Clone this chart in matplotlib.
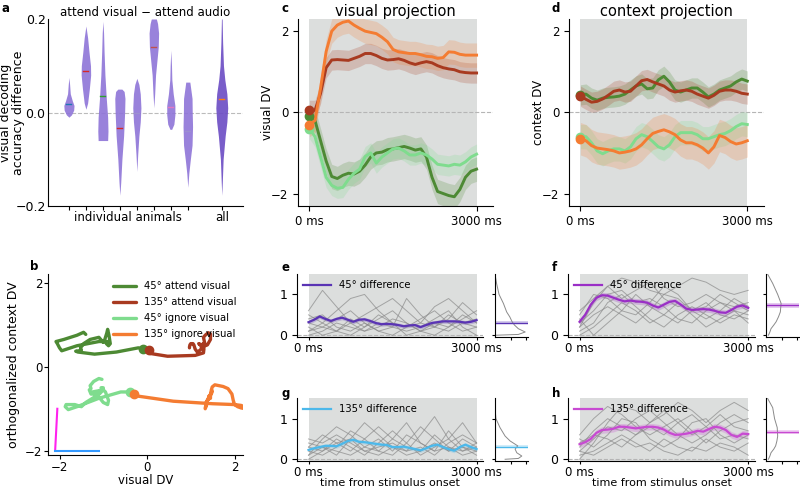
import matplotlib
matplotlib.use("Agg")
import matplotlib.pyplot as plt

plt.rcParams["font.family"] = "DejaVu Sans"
plt.rcParams["font.size"] = 8.5

# ---------------- data ----------------
# panel a: violin outlines (y level, half width) per animal, and medians
VIOLIN_POS = [1, 2, 3, 4, 5, 6, 7, 8, 10]
VIOLIN_Y = [
    [-0.010, -0.005, 0.005, 0.015, 0.025, 0.040, 0.060, 0.075],
    [0.007, 0.020, 0.050, 0.080, 0.100, 0.130, 0.160, 0.185],
    [-0.060, -0.040, -0.010, 0.030, 0.080, 0.130, 0.170, 0.195],
    [-0.177, -0.150, -0.100, -0.050, 0.000, 0.030, 0.045, 0.050],
    [-0.126, -0.090, -0.050, -0.020, 0.010, 0.040, 0.060, 0.073],
    [0.010, 0.040, 0.080, 0.110, 0.140, 0.170, 0.190, 0.200],
    [-0.036, -0.025, -0.005, 0.015, 0.040, 0.070, 0.100, 0.133],
    [-0.160, -0.130, -0.100, -0.070, -0.030, 0.000, 0.030, 0.065],
    [-0.177, -0.150, -0.100, -0.050, -0.020, 0.010, 0.040, 0.070, 0.100, 0.150, 0.200],
]
VIOLIN_W = [
    [0.00, 0.15, 0.28, 0.30, 0.20, 0.08, 0.04, 0.00],
    [0.00, 0.10, 0.20, 0.28, 0.27, 0.18, 0.10, 0.00],
    [0.28, 0.30, 0.28, 0.20, 0.12, 0.07, 0.04, 0.00],
    [0.00, 0.05, 0.12, 0.22, 0.28, 0.30, 0.25, 0.12],
    [0.00, 0.05, 0.12, 0.20, 0.24, 0.20, 0.12, 0.00],
    [0.00, 0.05, 0.10, 0.18, 0.26, 0.28, 0.22, 0.15],
    [0.05, 0.18, 0.24, 0.24, 0.14, 0.06, 0.04, 0.00],
    [0.00, 0.06, 0.15, 0.25, 0.28, 0.26, 0.25, 0.12],
    [0.00, 0.03, 0.08, 0.20, 0.30, 0.35, 0.30, 0.18, 0.10, 0.05, 0.02],
]
VIOLIN_MED = [0.018, 0.088, 0.036, -0.034, 0.0, 0.140, 0.012, -0.040, 0.028]
MED_COLORS = ["#1f77b4", "#d62728", "#2ca02c", "#d62728", "#9c8fd0", "#c0504d",
              "#e377c2", "#9c8fd0", "#ff7f0e"]

# panels c, d: time axis (ms)
T = list(range(0, 3001, 100))

VIS_45_ATT = [-0.10, -0.20, -0.70, -1.20, -1.58, -1.63, -1.55, -1.50, -1.52, -1.45, -1.30,
              -1.10, -1.00, -0.98, -0.92, -0.90, -0.87, -0.84, -0.88, -0.93, -0.90,
              -1.10, -1.60, -1.95, -2.00, -2.05, -2.08, -1.90, -1.60, -1.45, -1.40]
VIS_135_ATT = [0.05, 0.05, 0.47, 1.10, 1.29, 1.30, 1.29, 1.28, 1.33, 1.38, 1.45,
               1.45, 1.40, 1.33, 1.29, 1.30, 1.32, 1.28, 1.22, 1.18, 1.22,
               1.25, 1.22, 1.15, 1.10, 1.07, 1.05, 1.00, 0.98, 0.97, 0.97]
VIS_45_IGN = [-0.40, -0.60, -1.10, -1.60, -1.80, -1.87, -1.85, -1.65, -1.50, -1.40, -1.09,
              -1.00, -1.25, -1.10, -1.00, -0.90, -0.88, -0.95, -1.05, -1.05, -1.00,
              -1.05, -1.15, -1.28, -1.30, -1.32, -1.28, -1.30, -1.22, -1.10, -1.03]
VIS_135_IGN = [-0.30, -0.20, 0.60, 1.50, 2.00, 2.15, 2.22, 2.25, 2.15, 2.07, 2.00,
               1.97, 1.94, 1.85, 1.74, 1.55, 1.49, 1.47, 1.45, 1.45, 1.42,
               1.38, 1.37, 1.33, 1.35, 1.49, 1.48, 1.43, 1.41, 1.41, 1.41]
VIS_ERR = [0.30, 0.25, 0.25, 0.30]

CTX_45_ATT = [0.43, 0.45, 0.35, 0.30, 0.35, 0.37, 0.38, 0.40, 0.45, 0.55, 0.65,
              0.70, 0.58, 0.60, 0.80, 0.89, 0.75, 0.55, 0.50, 0.55, 0.60,
              0.60, 0.50, 0.38, 0.45, 0.55, 0.60, 0.65, 0.75, 0.82, 0.77]
CTX_135_ATT = [0.40, 0.32, 0.25, 0.27, 0.33, 0.42, 0.52, 0.55, 0.50, 0.52, 0.65,
               0.78, 0.81, 0.75, 0.70, 0.65, 0.55, 0.50, 0.53, 0.55, 0.52,
               0.45, 0.40, 0.35, 0.42, 0.52, 0.55, 0.55, 0.52, 0.47, 0.45]
CTX_45_IGN = [-0.60, -0.60, -0.75, -0.95, -1.02, -0.95, -0.90, -0.90, -0.95, -0.85, -0.65,
              -0.55, -0.60, -0.72, -0.85, -0.90, -0.80, -0.60, -0.50, -0.50, -0.50,
              -0.55, -0.65, -0.65, -0.60, -0.55, -0.52, -0.45, -0.35, -0.28, -0.30]
CTX_135_IGN = [-0.65, -0.70, -0.82, -0.88, -0.90, -0.92, -0.95, -1.00, -0.98, -0.95, -0.90,
               -0.80, -0.65, -0.52, -0.47, -0.43, -0.48, -0.55, -0.68, -0.75, -0.75,
               -0.80, -0.88, -1.00, -0.85, -0.57, -0.62, -0.72, -0.78, -0.75, -0.70]
CTX_ERR = [0.25, 0.25, 0.30, 0.40]

COND_LABELS = ["45° attend visual", "135° attend visual", "45° ignore visual", "135° ignore visual"]
COND_COLORS = ["#4d8a34", "#a83a20", "#7fdc8e", "#f47c32"]

# panels e-h: difference traces
DIFF_45_VIS = [0.32, 0.38, 0.46, 0.40, 0.35, 0.40, 0.43, 0.38, 0.33, 0.38, 0.39,
               0.35, 0.30, 0.27, 0.28, 0.27, 0.25, 0.22, 0.24, 0.25, 0.20,
               0.25, 0.30, 0.32, 0.34, 0.34, 0.34, 0.33, 0.31, 0.33, 0.37]
DIFF_45_CTX = [0.33, 0.50, 0.75, 0.92, 0.98, 0.97, 0.92, 0.87, 0.83, 0.85, 0.83,
               0.82, 0.80, 0.73, 0.68, 0.75, 0.82, 0.84, 0.75, 0.65, 0.62,
               0.63, 0.64, 0.63, 0.60, 0.56, 0.55, 0.62, 0.70, 0.73, 0.67]
DIFF_135_VIS = [0.23, 0.27, 0.30, 0.33, 0.33, 0.32, 0.38, 0.45, 0.48, 0.43, 0.42,
                0.40, 0.38, 0.36, 0.35, 0.30, 0.30, 0.31, 0.28, 0.25, 0.22,
                0.27, 0.33, 0.36, 0.30, 0.25, 0.21, 0.30, 0.36, 0.30, 0.25]
DIFF_135_CTX = [0.37, 0.42, 0.50, 0.65, 0.72, 0.73, 0.75, 0.80, 0.80, 0.78, 0.76,
                0.78, 0.80, 0.80, 0.78, 0.73, 0.65, 0.60, 0.61, 0.63, 0.66,
                0.70, 0.68, 0.74, 0.80, 0.78, 0.72, 0.60, 0.55, 0.63, 0.62]
DIFF_ERR = [0.05, 0.07, 0.05, 0.08]

T_ANIMAL = list(range(0, 3001, 250))
ANIMALS_E = [
    [0.6, 1.1, 0.7, 0.3, 0.1, 0.2, 0.4, 0.3, 0.1, 0.2, 0.5, 0.3, 0.2],
    [0.1, 0.3, 0.6, 0.9, 1.0, 0.6, 0.3, 0.2, 0.4, 0.6, 0.3, 0.1, 0.2],
    [0.3, 0.2, 0.1, 0.3, 0.5, 0.7, 0.9, 0.6, 0.3, 0.2, 0.4, 0.8, 0.5],
    [0.0, 0.1, 0.3, 0.2, 0.1, 0.3, 0.2, 0.9, 0.5, 0.2, 0.1, 0.3, 0.4],
    [0.4, 0.5, 0.2, 0.1, 0.3, 0.1, 0.0, 0.2, 0.3, 0.7, 0.9, 0.6, 0.3],
    [0.2, 0.0, 0.1, 0.4, 0.2, 0.4, 0.6, 0.3, 0.1, 0.0, 0.2, 0.4, 0.6],
    [0.1, 0.2, 0.4, 0.6, 0.3, 0.1, 0.2, 0.1, 0.2, 0.4, 0.6, 0.2, 0.0],
    [0.5, 0.3, 0.1, 0.0, 0.2, 0.5, 0.3, 0.0, 0.1, 0.3, 0.2, 0.5, 0.3],
]
ANIMALS_F = [
    [0.2, 0.8, 1.2, 1.4, 1.3, 1.1, 1.0, 1.2, 1.4, 1.3, 1.1, 1.0, 1.1],
    [0.5, 1.0, 0.9, 0.6, 0.5, 0.8, 1.2, 1.0, 0.6, 0.4, 0.6, 0.9, 0.7],
    [0.1, 0.3, 0.8, 1.0, 0.7, 0.4, 0.2, 0.5, 0.7, 0.5, 0.3, 0.5, 0.4],
    [0.6, 0.9, 1.2, 0.9, 1.1, 1.3, 0.9, 0.7, 0.8, 1.0, 0.8, 0.6, 0.5],
    [0.0, 0.2, 0.5, 0.8, 0.6, 0.3, 0.5, 0.8, 0.5, 0.2, 0.4, 0.6, 0.3],
    [0.3, 0.6, 1.0, 1.1, 0.8, 0.9, 0.7, 0.4, 0.3, 0.6, 0.8, 0.7, 0.8],
    [0.4, 0.0, 0.3, 0.6, 1.0, 0.7, 0.5, 0.3, 0.6, 0.8, 0.5, 0.4, 0.6],
    [0.2, 0.5, 0.7, 0.5, 0.3, 0.6, 1.0, 0.9, 0.6, 0.7, 1.0, 0.8, 0.6],
]
ANIMALS_G = [
    [0.1, 0.5, 0.8, 0.6, 0.3, 0.2, 0.5, 0.9, 0.4, 0.2, 0.3, 0.1, 0.2],
    [0.4, 0.3, 0.1, 0.5, 0.9, 0.6, 0.3, 0.2, 0.6, 1.05, 0.5, 0.2, 0.3],
    [0.0, 0.2, 0.5, 0.3, 0.1, 0.4, 0.7, 0.4, 0.1, 0.3, 0.5, 0.9, 0.4],
    [0.3, 0.6, 0.4, 0.2, 0.5, 0.8, 0.5, 0.3, 0.2, 0.4, 0.2, 0.5, 0.3],
    [0.2, 0.1, 0.3, 0.7, 0.5, 0.2, 0.1, 0.4, 0.8, 0.5, 0.2, 0.3, 0.1],
    [0.5, 0.4, 0.6, 0.4, 0.2, 0.3, 0.4, 0.2, 0.3, 0.1, 0.4, 0.6, 0.4],
    [0.1, 0.3, 0.2, 0.1, 0.3, 0.5, 0.2, 0.6, 0.4, 0.2, 0.7, 0.3, 0.2],
    [0.3, 0.2, 0.4, 0.5, 0.2, 0.1, 0.3, 0.1, 0.2, 0.6, 0.3, 0.2, 0.4],
]
ANIMALS_H = [
    [0.0, 0.4, 0.9, 1.3, 1.2, 0.9, 1.1, 1.4, 1.2, 0.9, 1.2, 1.4, 1.2],
    [0.3, 0.7, 1.0, 0.8, 0.6, 0.9, 1.2, 0.9, 0.6, 0.8, 1.1, 0.8, 0.7],
    [0.5, 0.3, 0.6, 1.0, 0.9, 0.5, 0.3, 0.5, 0.9, 1.0, 0.6, 0.4, 0.6],
    [0.1, 0.2, 0.4, 0.6, 0.4, 0.2, 0.5, 0.3, 0.2, 0.5, 0.3, 0.2, 0.4],
    [0.2, 0.5, 0.8, 0.7, 1.0, 1.2, 0.9, 0.6, 0.4, 0.6, 0.9, 1.1, 0.9],
    [0.4, 0.6, 0.5, 0.3, 0.6, 0.8, 0.6, 0.9, 1.1, 0.8, 0.5, 0.6, 0.5],
    [0.6, 1.0, 1.3, 1.1, 0.8, 0.6, 0.8, 1.0, 0.7, 0.4, 0.7, 0.9, 1.0],
    [0.2, 0.1, 0.3, 0.5, 0.3, 0.4, 0.2, 0.1, 0.3, 0.2, 0.4, 0.3, 0.1],
]

# side panels: density of time-averaged difference, and mean +- sem
DENS_Y = [0.0, 0.02, 0.08, 0.16, 0.25, 0.33, 0.45, 0.57, 0.78, 1.0, 1.27, 1.5]
DENS_E = [0.0, 1.50, 1.94, 1.50, 1.25, 1.10, 0.95, 0.75, 0.54, 0.26, 0.10, 0.0]
DENS_F = [0.15, 0.18, 0.25, 0.32, 0.50, 0.65, 0.80, 0.92, 0.97, 0.75, 0.43, 0.10]
DENS_G = [0.65, 1.50, 1.72, 1.40, 1.29, 1.46, 0.97, 0.65, 0.32, 0.06, 0.0, 0.0]
DENS_H = [0.15, 0.18, 0.25, 0.32, 0.50, 0.62, 0.70, 0.75, 0.72, 0.55, 0.43, 0.10]
SIDE_MEAN = [0.31, 0.73, 0.31, 0.68]
SIDE_SEM = [0.04, 0.07, 0.035, 0.05]

DIFF_LABELS = ["45° difference", "45° difference", "135° difference", "135° difference"]
DIFF_COLORS = ["#5a34b4", "#9a2fc6", "#4cb8ea", "#c84ad2"]

BG = "#dcdedd"


def px_axes(fig, x0, y0, x1, y1):
    W, H = 800.0, 488.0
    return fig.add_axes([x0 / W, 1 - y1 / H, (x1 - x0) / W, (y1 - y0) / H])


def clean(ax):
    ax.spines["top"].set_visible(False)
    ax.spines["right"].set_visible(False)


fig = plt.figure(figsize=(8, 4.88), dpi=100)

# ---------------- a ----------------
ax = px_axes(fig, 47.7, 19, 243, 206)
clean(ax)
ax.axhline(0, color="#bbbbbb", ls="--", lw=0.8, zorder=0)
for i, pos in enumerate(VIOLIN_POS):
    col = "#6b4bc4" if pos == 10 else "#8e74d8"
    ys = VIOLIN_Y[i]
    ws = VIOLIN_W[i]
    ax.fill_betweenx(ys, [pos - w for w in ws], [pos + w for w in ws],
                     color=col, alpha=0.9, lw=0)
    ax.plot([pos - 0.15, pos + 0.15], [VIOLIN_MED[i]] * 2, color=MED_COLORS[i], lw=1)
ax.set_xlim(-0.25, 11.25)
ax.set_ylim(-0.2, 0.2)
ax.set_yticks([-0.2, 0.0, 0.2])
ax.set_xticks(VIOLIN_POS)
ax.set_xticklabels([])
ax.tick_params(axis="x", length=3)
ax.tick_params(axis="y", length=0, pad=1.5, labelsize=9)
ax.text(4.5, -0.21, "individual animals", ha="center", va="top", fontsize=8.5)
ax.text(10, -0.21, "all", ha="center", va="top", fontsize=8.5)
ax.set_title("attend visual − attend audio", fontsize=8.5, pad=2)
ax.set_ylabel("visual decoding\naccuracy difference", linespacing=0.95, fontsize=9)
ax.yaxis.set_label_coords(-0.118, 0.5)

# ---------------- b ----------------
ax = px_axes(fig, 47.7, 274.3, 243.3, 455.0)
clean(ax)
vis = [VIS_45_ATT, VIS_135_ATT, VIS_45_IGN, VIS_135_IGN]
ctx = [CTX_45_ATT, CTX_135_ATT, CTX_45_IGN, CTX_135_IGN]
for k in range(4):
    ax.plot(vis[k], ctx[k], color=COND_COLORS[k], lw=2.4, label=COND_LABELS[k],
            solid_capstyle="round")
for k in range(4):
    ax.plot(vis[k][0], ctx[k][0], "o", color=COND_COLORS[k], ms=6, zorder=5)
ax.plot([-2.1, -2.05], [-2.0, -1.0], color="#ff22ee", lw=1.5)
ax.plot([-2.1, -1.1], [-2.0, -2.0], color="#3399ff", lw=1.5)
ax.set_xlim(-2.27, 2.2)
ax.set_ylim(-2.1, 2.2)
ax.set_xticks([-2, 0, 2])
ax.set_yticks([-2, 0, 2])
ax.tick_params(labelsize=8.5, pad=1, length=3)
ax.set_xlabel("visual DV", fontsize=8.5, labelpad=0.5)
ax.set_ylabel("orthogonalized context DV", fontsize=9)
ax.yaxis.set_label_coords(-0.14, 0.5)
ax.legend(loc="upper right", frameon=False, fontsize=7.2, handlelength=2.3,
          borderaxespad=0.3, labelspacing=0.6)

# ---------------- c, d ----------------
for (x0, x1), series, errs, title, ylab in [
        ((298.3, 493.3), vis, VIS_ERR, "visual projection", "visual DV"),
        ((569.3, 764.0), ctx, CTX_ERR, "context projection", "context DV")]:
    ax = px_axes(fig, x0, 19, x1, 205.7)
    clean(ax)
    ax.axvspan(0, 3000, color=BG, lw=0, zorder=0)
    ax.axhline(0, color="#b5b5b5", ls="--", lw=0.8, zorder=1)
    for k in range(4):
        e = errs[k]
        ys = series[k]
        ax.fill_between(T, [v - e for v in ys], [v + e for v in ys],
                        color=COND_COLORS[k], alpha=0.22, lw=0)
    for k in range(4):
        ax.plot(T, series[k], color=COND_COLORS[k], lw=2.1)
        ax.plot(T[0], series[k][0], "o", color=COND_COLORS[k], ms=6, zorder=5)
    ax.set_xlim(-200, 3300)
    ax.set_ylim(-2.3, 2.3)
    ax.set_xticks([0, 3000])
    ax.set_xticklabels(["0 ms", "3000 ms"])
    ax.set_yticks([-2, 0, 2])
    ax.set_title(title, fontsize=10.5, pad=2)
    ax.set_ylabel(ylab, fontsize=8.5)
    ax.yaxis.set_label_coords(-0.125, 0.5)

# ---------------- e-h ----------------
boxes = [(297.3, 274.0, 483.3, 337.3), (568.3, 274.0, 755.0, 337.3),
         (297.3, 398.3, 483.3, 461.3), (568.3, 398.3, 755.0, 461.3)]
sides = [(495.0, 527.7), (766.0, 798.7), (495.0, 527.7), (766.0, 798.7)]
diffs = [DIFF_45_VIS, DIFF_45_CTX, DIFF_135_VIS, DIFF_135_CTX]
animals = [ANIMALS_E, ANIMALS_F, ANIMALS_G, ANIMALS_H]
dens = [DENS_E, DENS_F, DENS_G, DENS_H]
for k in range(4):
    x0, y0, x1, y1 = boxes[k]
    ax = px_axes(fig, x0, y0, x1, y1)
    clean(ax)
    ax.axvspan(0, 3000, color=BG, lw=0, zorder=0)
    ax.axhline(0, color="#b5b5b5", ls="--", lw=0.8, zorder=1)
    for tr in animals[k]:
        ax.plot(T_ANIMAL, tr, color="#8a8a8a", lw=0.7, alpha=0.7)
    e = DIFF_ERR[k]
    ax.fill_between(T, [v - e for v in diffs[k]], [v + e for v in diffs[k]],
                    color=DIFF_COLORS[k], alpha=0.25, lw=0)
    ax.plot(T, diffs[k], color=DIFF_COLORS[k], lw=1.6, label=DIFF_LABELS[k])
    ax.set_xlim(-200, 3120)
    ax.set_ylim(-0.05, 1.5)
    ax.set_xticks([0, 3000])
    ax.set_xticklabels(["0 ms", "3000 ms"])
    ax.set_yticks([0, 1])
    ax.tick_params(axis="x", pad=1, length=2.5)
    ax.tick_params(axis="y", labelsize=9)
    ax.legend(loc="upper left", frameon=False, fontsize=7.2, handlelength=2.8,
              borderaxespad=0.2)
    if k >= 2:
        ax.set_xlabel("time from stimulus onset", fontsize=8)
        ax.xaxis.set_label_coords(0.5, -0.27)

    sx0, sx1 = sides[k]
    sa = px_axes(fig, sx0, y0, sx1, y1)
    clean(sa)
    sa.plot(dens[k], DENS_Y, color="#8a8a8a", lw=0.7)
    m, s = SIDE_MEAN[k], SIDE_SEM[k]
    sa.axhspan(m - s, m + s, color=DIFF_COLORS[k], alpha=0.25, lw=0)
    sa.axhline(m, color=DIFF_COLORS[k], lw=1.0)
    sa.set_xlim(0, 2.1)
    sa.set_ylim(-0.05, 1.5)
    sa.set_xticks([1, 2])
    sa.set_xticklabels([])
    sa.set_yticks([0, 1])
    sa.set_yticklabels([])
    sa.tick_params(length=2)

# panel letters
for lab, x, y in [("a", 2, 2), ("b", 30, 260), ("c", 282, 2), ("d", 552, 2),
                  ("e", 281, 261), ("f", 552, 261), ("g", 281, 387), ("h", 552, 387)]:
    fig.text(x / 800, 1 - y / 488, lab, fontweight="bold", fontsize=8.5, va="top")

fig.savefig("out.png", dpi=100)
